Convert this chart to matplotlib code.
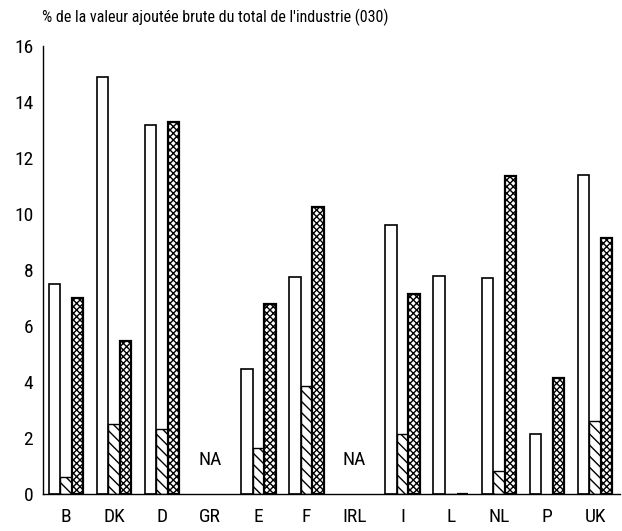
import numpy as np
import matplotlib
matplotlib.use("Agg")
import matplotlib.pyplot as plt

plt.rcParams['font.family'] = ['Liberation Sans Narrow', 'Roboto Condensed', 'Liberation Sans', 'DejaVu Sans']
plt.rcParams['hatch.linewidth'] = 1.0

countries = ["B", "DK", "D", "GR", "E", "F", "IRL", "I", "L", "NL", "P", "UK"]
# three series per country (NaN = not available)
serie_blanc = [7.5, 14.9, 13.2, np.nan, 4.45, 7.75, np.nan, 9.6, 7.8, 7.7, 2.15, 11.4]
serie_hachure = [0.6, 2.5, 2.3, np.nan, 1.65, 3.85, np.nan, 2.15, 0.0, 0.8, np.nan, 2.6]
serie_croix = [7.0, 5.45, 13.3, np.nan, 6.8, 10.25, np.nan, 7.15, 0.0, 11.35, 4.15, 9.15]
na_countries = ["GR", "IRL"]
yticks = [0, 2, 4, 6, 8, 10, 12, 14, 16]

fig = plt.figure(figsize=(6.22, 5.31), dpi=100)
ax = fig.add_axes([0.069, 0.070, 0.928, 0.843])

x = np.arange(len(countries))
w = 0.24
ax.bar(x - w, serie_blanc, w, color="white", edgecolor="black", linewidth=1.2)
ax.bar(x, serie_hachure, w, color="white", edgecolor="black", linewidth=1.0, hatch="\\\\\\")
ax.bar(x + w, serie_croix, w, color="white", edgecolor="black", linewidth=1.6, hatch="xxxxx")

for c in na_countries:
    ax.text(countries.index(c), 1.2, "NA", ha="center", va="center", fontsize=14)

ax.set_xlim(-0.478, 11.52)
ax.set_ylim(0, 16)
ax.set_xticks(x)
ax.set_xticklabels(countries, fontsize=14)
ax.set_yticks(yticks)
ax.set_yticklabels([str(v) for v in yticks], fontsize=14)
ax.tick_params(length=0, pad=7)
ax.tick_params(axis="x", pad=10)
for s in ["top", "right"]:
    ax.spines[s].set_visible(False)
ax.spines["left"].set_linewidth(1.0)
ax.spines["bottom"].set_linewidth(1.0)

fig.text(0.068, 0.968, "% de la valeur ajoutée brute du total de l'industrie (030)",
         fontsize=11.5, ha="left", va="center")

fig.savefig("out.png", dpi=100)
